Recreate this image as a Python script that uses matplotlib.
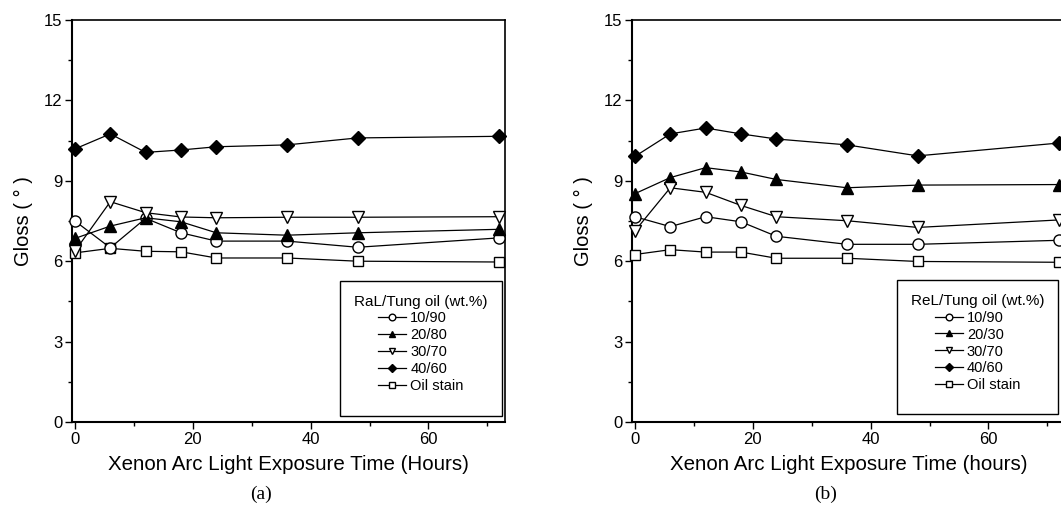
import matplotlib
matplotlib.use('Agg')
import matplotlib.pyplot as plt
from matplotlib.patches import Rectangle

plt.rcParams['font.family'] = ['Liberation Sans', 'DejaVu Sans']

# exposure time (hours)
hours = [0, 6, 12, 18, 24, 36, 48, 72]

# (a) RaL / tung oil
a_10_90 = [7.50, 6.50, 7.60, 7.06, 6.75, 6.75, 6.52, 6.87]
a_20_80 = [6.85, 7.31, 7.62, 7.47, 7.06, 6.97, 7.06, 7.19]
a_30_70 = [6.38, 8.22, 7.81, 7.65, 7.62, 7.64, 7.64, 7.66]
a_40_60 = [10.19, 10.75, 10.06, 10.15, 10.27, 10.34, 10.60, 10.66]
a_oil = [6.31, 6.48, 6.37, 6.35, 6.12, 6.12, 6.00, 5.97]
a_labels = ['10/90', '20/80', '30/70', '40/60', 'Oil stain']

# (b) ReL / tung oil
b_10_90 = [7.66, 7.29, 7.66, 7.47, 6.93, 6.63, 6.63, 6.78]
b_20_30 = [8.52, 9.12, 9.49, 9.33, 9.05, 8.74, 8.84, 8.86]
b_30_70 = [7.13, 8.74, 8.57, 8.08, 7.66, 7.51, 7.26, 7.54]
b_40_60 = [9.91, 10.75, 10.97, 10.75, 10.56, 10.34, 9.93, 10.41]
b_oil = [6.25, 6.43, 6.34, 6.34, 6.11, 6.11, 5.99, 5.96]
b_labels = ['10/90', '20/30', '30/70', '40/60', 'Oil stain']

# marker, face colour, size, zorder
styles = [('o', 'white', 8, 4),
          ('^', 'black', 8, 5),
          ('v', 'white', 8, 6),
          ('D', 'black', 7, 7),
          ('s', 'white', 6.5, 3)]

W, H = 1061, 513
fig = plt.figure(figsize=(W / 100, H / 100), dpi=100)

def panel(left_px, series, labels, title, xlabel, cap, cap_x, box):
    ax = fig.add_axes([left_px / W, 1 - 422 / H, 433 / W, 402 / H])
    lines = []
    for ys, lab, (m, fc, ms, z) in zip(series, labels, styles):
        ln, = ax.plot(hours, ys, color='black', lw=0.9, marker=m, ms=ms,
                      mfc=fc, mec='black', mew=1.0, label=lab, zorder=z,
                      clip_on=False)
        lines.append(ln)
    ax.set_xlim(-0.5, 73)
    ax.set_ylim(0, 15)
    ax.set_xticks([0, 20, 40, 60])
    ax.set_xticks([10, 30, 50, 70], minor=True)
    ax.set_yticks([0, 3, 6, 9, 12, 15])
    ax.set_yticks([1.5, 4.5, 7.5, 10.5, 13.5], minor=True)
    ax.tick_params(which='major', direction='out', length=5, width=1.0,
                   labelsize=12, pad=2)
    ax.tick_params(which='minor', direction='out', length=3, width=1.0)
    for s in ['left', 'bottom']:
        ax.spines[s].set_linewidth(1.5)
    for s in ['top', 'right']:
        ax.spines[s].set_linewidth(1.2)
    ax.set_xlabel(xlabel, fontsize=14.8, labelpad=6)
    ax.set_ylabel('Gloss ( \u00b0 )', fontsize=14.5, labelpad=8)

    # legend frame drawn separately (Origin style box with extra bottom room)
    x0, y0, x1, y1 = box
    ax.add_patch(Rectangle((x0, y0), x1 - x0, y1 - y0, transform=ax.transAxes,
                           fill=False, ec='black', lw=1.0, zorder=8))
    leg = ax.legend(handles=lines, title=title, loc='upper center',
                    bbox_to_anchor=((x0 + x1) / 2, y1 - 0.005),
                    frameon=False, fontsize=10.5, title_fontsize=11,
                    markerscale=0.6, handlelength=1.9, handletextpad=0.3,
                    labelspacing=0.2, borderpad=0.3)
    leg.set_zorder(9)
    fig.text(cap_x / W, 1 - 494 / H, cap, fontsize=14,
             family=['Liberation Serif', 'DejaVu Serif'],
             ha='center', va='center')
    return ax

panel(72, [a_10_90, a_20_80, a_30_70, a_40_60, a_oil], a_labels,
      'RaL/Tung oil (wt.%)', 'Xenon Arc Light Exposure Time (Hours)',
      '(a)', 261, (0.619, 0.015, 0.993, 0.351))
panel(632, [b_10_90, b_20_30, b_30_70, b_40_60, b_oil], b_labels,
      'ReL/Tung oil (wt.%)', 'Xenon Arc Light Exposure Time (hours)',
      '(b)', 826, (0.612, 0.02, 0.984, 0.353))

fig.savefig('out.png', dpi=100)
